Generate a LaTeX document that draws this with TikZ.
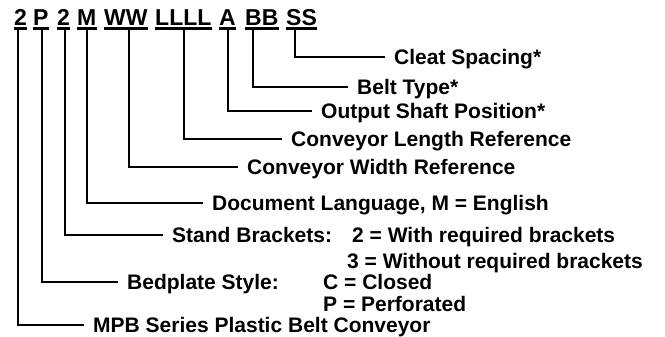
\documentclass[tikz,border=0pt]{standalone}
\usepackage{fontspec}
\setmainfont{Liberation Sans}

\tikzset{
	code/.style = {anchor = base west, inner sep = 0pt, text depth = 2.5pt, font = \fontsize{23}{26}\selectfont\bfseries},
	uline/.style = {line width = 2.4pt},
	label/.style = {anchor = west, inner sep = 0pt, text height = 15pt, text depth = 0pt, font = \fontsize{21}{24}\selectfont\bfseries},
	conn/.style = {line width = 1.1pt, shorten > = 9pt}
}

\begin{document}
\begin{tikzpicture}[x=1pt, y=-1pt]
	\useasboundingbox (0,0) rectangle (665,337);
	% the code letters
	\node [code] (c1) at (14, 26) {2};
	\node [code] (c2) at (33, 26) {P};
	\node [code] (c3) at (57, 26) {2};
	\node [code] (c4) at (77, 26) {M};
	\node [code] (c5) at (104, 26) {WW};
	\node [code] (c6) at (155, 26) {LLLL};
	\node [code] (c7) at (219, 26) {A};
	\node [code] (c8) at (245, 26) {BB};
	\node [code] (c9) at (286, 26) {SS};
	\draw [uline] (c1.south west) -- (c1.south east);
	\draw [uline] (c2.south west) -- (c2.south east);
	\draw [uline] (c3.south west) -- (c3.south east);
	\draw [uline] (c4.south west) -- (c4.south east);
	\draw [uline] (c5.south west) -- (c5.south east);
	\draw [uline] (c6.south west) -- (c6.south east);
	\draw [uline] (c7.south west) -- (c7.south east);
	\draw [uline] (c8.south west) -- (c8.south east);
	\draw [uline] (c9.south west) -- (c9.south east);
	% the meanings
	\node [label] (l9) at (394, 57) {Cleat Spacing*};
	\node [label] (l8) at (357, 87) {Belt Type*};
	\node [label] (l7) at (321, 111) {Output Shaft Position*};
	\node [label] (l6) at (291, 139) {Conveyor Length Reference};
	\node [label] (l5) at (247, 167) {Conveyor Width Reference};
	\node [label] (l4) at (212, 203) {Document Language, M = English};
	\node [label] (l3) at (172, 235) {Stand Brackets:};
	\node [label] (l3a) at (352, 235) {2 = With required brackets};
	\node [label] (l3b) at (347, 261) {3 = Without required brackets};
	\node [label] (l2) at (127, 282) {Bedplate Style:};
	\node [label] (l2a) at (323, 282) {C = Closed};
	\node [label] (l2b) at (323, 304) {P = Perforated};
	\node [label] (l1) at (93, 325) {MPB Series Plastic Belt Conveyor};
	% connectors
	\draw [conn] ([xshift=4pt]c1.south west) |- (l1.west);
	\draw [conn] ([xshift=9pt]c2.south west) |- (l2.west);
	\draw [conn] ([xshift=8pt]c3.south west) |- (l3.west);
	\draw [conn] ([xshift=10pt]c4.south west) |- (l4.west);
	\draw [conn] ([xshift=25pt]c5.south west) |- (l5.west);
	\draw [conn] ([xshift=29pt]c6.south west) |- (l6.west);
	\draw [conn] ([xshift=9pt]c7.south west) |- (l7.west);
	\draw [conn] ([xshift=8pt]c8.south west) |- (l8.west);
	\draw [conn] ([xshift=9pt]c9.south west) |- (l9.west);
\end{tikzpicture}
\end{document}
